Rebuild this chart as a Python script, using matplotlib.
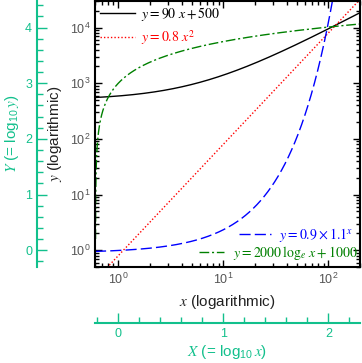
import numpy as np
import matplotlib
matplotlib.use("Agg")
import matplotlib.pyplot as plt
from matplotlib.ticker import MultipleLocator

plt.rcParams['font.family'] = ['Liberation Sans', 'DejaVu Sans']
plt.rcParams['mathtext.fontset'] = 'stix'

# curve parameters (as written in the legend)
lin_coef = [90, 500]        # y = 90 x + 500
sq_coef = 0.8               # y = 0.8 x^2
exp_coef = [0.9, 1.1]       # y = 0.9 * 1.1^x
log_coef = [2000, 1000]     # y = 2000 ln x + 1000

x_range = [0.6, 200]
y_range = [0.5, 3e4]

teal = '#12c08c'

x = np.logspace(np.log10(x_range[0]), np.log10(x_range[1]), 3000)
y_lin = lin_coef[0] * x + lin_coef[1]
y_sq = sq_coef * x ** 2
y_exp = exp_coef[0] * exp_coef[1] ** x
y_log = log_coef[0] * np.log(x) + log_coef[1]
y_log = np.where(y_log > 0, y_log, np.nan)

pos = [95/362, 96/363, 265/362, 266/363]
fig = plt.figure(figsize=(3.62, 3.63), dpi=100)

# linear axes in log10 units, only the two offset spines are shown
ax2 = fig.add_axes(pos)
ax2.patch.set_visible(False)
ax2.set_xlim(np.log10(x_range))
ax2.set_ylim(np.log10(y_range))
ax2.spines['top'].set_visible(False)
ax2.spines['right'].set_visible(False)
ax2.spines['left'].set_position(('axes', (37 - 95) / 265))
ax2.spines['bottom'].set_position(('axes', -(323 - 267) / 266))
for s in ['left', 'bottom']:
    ax2.spines[s].set_color(teal)
    ax2.spines[s].set_linewidth(1.5)
ax2.xaxis.set_major_locator(MultipleLocator(1))
ax2.xaxis.set_minor_locator(MultipleLocator(0.2))
ax2.yaxis.set_major_locator(MultipleLocator(1))
ax2.yaxis.set_minor_locator(MultipleLocator(0.2))
ax2.tick_params(which='both', direction='in', colors=teal, labelsize=9, width=1)
ax2.tick_params(which='major', length=7)
ax2.tick_params(which='minor', length=4)
ax2.set_ylabel(r'$Y$ (= log$_{\mathdefault{10}}\,y$)', fontsize=11, color=teal, labelpad=3)
ax2.set_xlabel(r'$X$ (= log$_{\mathdefault{10}}\,x$)', fontsize=11, color=teal, labelpad=2)

ax = fig.add_axes(pos)
ax.patch.set_visible(False)

l1, = ax.plot(x, y_lin, color='black', lw=1.0, label=r'$y = 90\ x + 500$')
l2, = ax.plot(x, y_sq, color='red', lw=1.0, ls=(0, (1, 1.5)), label=r'$y = 0.8\ x^2$')
l3, = ax.plot(x, y_exp, color='blue', lw=1.0, ls=(0, (8, 3)), label=r'$y = 0.9\times1.1^x$')
l4, = ax.plot(x, y_log, color='green', lw=1.0, ls=(0, (7, 2, 1.5, 2)),
              label=r'$y = 2000\,\log_e\,x + 1000$')

ax.set_xscale('log')
ax.set_yscale('log')
ax.set_xlim(x_range)
ax.set_ylim(y_range)

for s in ax.spines.values():
    s.set_linewidth(1.5)
ax.tick_params(which='both', direction='in', top=True, right=True,
               labelsize=9, labelcolor='#555555', width=1)
ax.tick_params(which='major', length=5)
ax.tick_params(which='minor', length=3)

ax.set_xlabel(r'$x$ (logarithmic)', fontsize=11, color='#222222', labelpad=4)
ax.set_ylabel(r'$y$ (logarithmic)', fontsize=11, color='#222222', labelpad=4)

leg1 = ax.legend(handles=[l1, l2], loc='upper left', bbox_to_anchor=(0.02, 0.985),
                 frameon=False, fontsize=10, labelcolor='linecolor',
                 handlelength=2.5, handletextpad=0.45, borderpad=0,
                 borderaxespad=0, labelspacing=0.35)
ax.add_artist(leg1)
leg2 = ax.legend(handles=[l3], loc='center right', bbox_to_anchor=(0.975, 0.12),
                 frameon=False, fontsize=10, labelcolor='linecolor',
                 handlelength=2.3, handletextpad=0.6, borderpad=0, borderaxespad=0)
ax.add_artist(leg2)
ax.legend(handles=[l4], loc='center right', bbox_to_anchor=(0.99, 0.053),
          frameon=False, fontsize=10, labelcolor='linecolor',
          handlelength=1.8, handletextpad=0.6, borderpad=0, borderaxespad=0)

fig.savefig('out.png', dpi=100)
